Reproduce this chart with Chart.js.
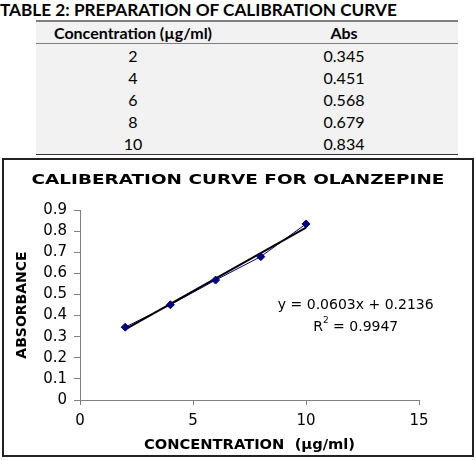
<!DOCTYPE html>
<html>
<head>
<meta charset="utf-8">
<script src="https://cdn.jsdelivr.net/npm/chart.js@4"></script>
<style>
  html, body { margin: 0; padding: 0; background: #fff; }
  body { width: 476px; height: 460px; position: relative; overflow: hidden; }
  #table-title {
    position: absolute; left: 0; top: -1px;
    font: 700 17.2px Lato, sans-serif; color: #000; white-space: nowrap;
  }
  #calib-table {
    position: absolute; left: 36px; top: 20px; width: 422px;
    border-collapse: collapse; table-layout: fixed;
    background: #f2f2f2; font-family: Lato, sans-serif; color: #000;
  }
  #calib-table th {
    font-weight: 700; font-size: 16px; height: 21px; padding: 0;
    border-top: 2px solid #7f7f7f; border-bottom: 1px solid #7f7f7f;
  }
  #calib-table td { font-size: 16px; height: 22px; padding: 0; text-align: center; }
  #calib-table tr:last-child td { border-bottom: 1.5px solid #333; }
  #chart-box {
    position: absolute; left: 2px; top: 158px; width: 472px; height: 299px;
    box-sizing: border-box; border: 2px solid #222; pointer-events: none;
  }
  #chart-wrap { position: absolute; left: 0; top: 158px; width: 476px; height: 300px; }
</style>
</head>
<body>
<div id="table-title">TABLE 2: PREPARATION OF CALIBRATION CURVE</div>
<table id="calib-table">
  <colgroup><col style="width:194px"><col></colgroup>
  <thead><tr><th>Concentration (µg/ml)</th><th>Abs</th></tr></thead>
  <tbody id="calib-body"></tbody>
</table>
<div id="chart-wrap"><canvas id="calib-chart" width="476" height="300"></canvas></div>
<div id="chart-box"></div>

<script>
const concentrations = [2, 4, 6, 8, 10];
const absorbance = [0.345, 0.451, 0.568, 0.679, 0.834];

// Excel trendline shown on the plot
const trendSlope = 0.0603;
const trendIntercept = 0.2136;
const rSquared = 0.9947;

const chartTitle = 'CALIBERATION CURVE FOR OLANZEPINE';
const xTickLabels = ['0', '5', '10', '15'];
const yTickLabels = ['0', '0.1', '0.2', '0.3', '0.4', '0.5', '0.6', '0.7', '0.8', '0.9'];

// Fill the table rows
const tbody = document.getElementById('calib-body');
concentrations.forEach((c, i) => {
  const tr = document.createElement('tr');
  tr.innerHTML = '<td>' + c + '</td><td>' + absorbance[i].toFixed(3) + '</td>';
  tbody.appendChild(tr);
});

const points = concentrations.map((c, i) => ({ x: c, y: absorbance[i] }));
const xFirst = concentrations[0];
const xLast = concentrations[concentrations.length - 1];
const trendPoints = [
  { x: xFirst, y: trendSlope * xFirst + trendIntercept },
  { x: xLast, y: trendSlope * xLast + trendIntercept }
];

const NAVY = '#000080';
const AXIS_GREY = '#808080';
const FONT = '"DejaVu Sans", sans-serif';

// Title centred on the whole box, a bit wide like the original
const boxTitle = {
  id: 'boxTitle',
  afterDraw(chart) {
    const { ctx, width } = chart;
    ctx.save();
    ctx.fillStyle = '#000';
    ctx.font = 'bold 14.5px ' + FONT;
    ctx.textAlign = 'center';
    ctx.textBaseline = 'middle';
    ctx.translate(width / 2, 22);
    ctx.scale(1.27, 1);
    ctx.fillText(chartTitle, 0, 0);
    ctx.restore();
  }
};

// Equation and R² text next to the line
const equationLabel = {
  id: 'equationLabel',
  afterDatasetsDraw(chart) {
    const { ctx, scales: { x, y } } = chart;
    const cx = x.getPixelForValue(12.2);
    const y1 = y.getPixelForValue(0.45);
    const y2 = y.getPixelForValue(0.346);
    ctx.save();
    ctx.fillStyle = '#000';
    ctx.textBaseline = 'middle';
    ctx.font = '14px ' + FONT;
    ctx.textAlign = 'center';
    ctx.fillText('y = ' + trendSlope + 'x + ' + trendIntercept, cx, y1);

    // R² with a raised 2
    const rest = ' = ' + rSquared;
    ctx.textAlign = 'left';
    const wR = ctx.measureText('R').width;
    const wRest = ctx.measureText(rest).width;
    ctx.font = '9px ' + FONT;
    const wSup = ctx.measureText('2').width;
    const left = cx - (wR + wSup + wRest) / 2;
    ctx.font = '14px ' + FONT;
    ctx.fillText('R', left, y2);
    ctx.font = '9px ' + FONT;
    ctx.fillText('2', left + wR, y2 - 6);
    ctx.font = '14px ' + FONT;
    ctx.fillText(rest, left + wR + wSup, y2);
    ctx.restore();
  }
};

const ctx = document.getElementById('calib-chart').getContext('2d');
new Chart(ctx, {
  type: 'scatter',
  data: {
    datasets: [
      {
        // markers on top
        label: 'markers',
        data: points,
        showLine: false,
        pointStyle: 'rectRot',
        pointRadius: 4,
        pointBackgroundColor: NAVY,
        pointBorderColor: NAVY,
        pointBorderWidth: 1
      },
      {
        label: 'trend',
        data: trendPoints,
        showLine: true,
        borderColor: '#000',
        borderWidth: 2,
        pointRadius: 0
      },
      {
        label: 'Abs',
        data: points,
        showLine: true,
        borderColor: NAVY,
        borderWidth: 1,
        pointRadius: 0
      }
    ]
  },
  options: {
    responsive: false,
    animation: false,
    devicePixelRatio: 1,
    layout: { padding: { left: 0, right: 57, top: 52, bottom: 0 } },
    plugins: {
      legend: { display: false },
      tooltip: { enabled: false },
      title: { display: false }
    },
    scales: {
      x: {
        type: 'linear',
        min: 0,
        max: 15,
        afterFit(scale) { scale.height = 58; },
        ticks: {
          stepSize: 5,
          color: '#000',
          padding: 7,
          font: { family: FONT, size: 15 },
          callback: (v, i) => xTickLabels[i]
        },
        grid: { drawOnChartArea: false, tickLength: 5, tickColor: AXIS_GREY },
        border: { color: AXIS_GREY, width: 1 },
        title: {
          display: true,
          text: 'CONCENTRATION  (µg/ml)',
          color: '#000',
          font: { family: FONT, size: 14.7, weight: 'bold' },
          padding: { top: 0, bottom: 4.5 }
        }
      },
      y: {
        min: 0,
        max: 0.9,
        afterFit(scale) { scale.width = 80; },
        ticks: {
          stepSize: 0.1,
          color: '#000',
          padding: 7,
          font: { family: FONT, size: 15 },
          callback: (v, i) => yTickLabels[i]
        },
        grid: { drawOnChartArea: false, tickLength: 6, tickColor: AXIS_GREY },
        border: { color: AXIS_GREY, width: 1 },
        title: {
          display: true,
          text: 'ABSORBANCE',
          color: '#000',
          font: { family: FONT, size: 14, weight: 'bold' },
          padding: { top: 13.5, bottom: 0 }
        }
      }
    }
  },
  plugins: [equationLabel, boxTitle]
});
</script>
</body>
</html>
